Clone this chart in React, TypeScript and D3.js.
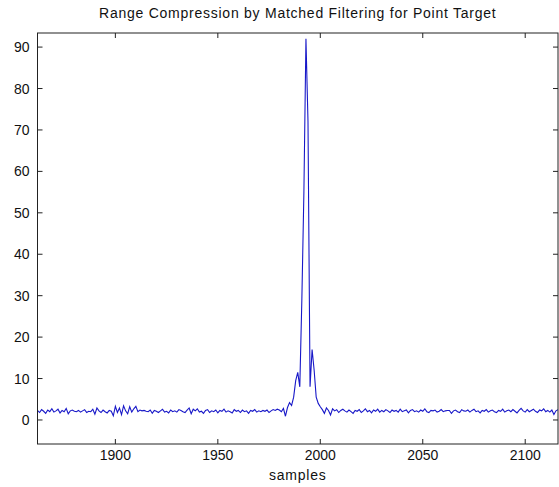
import React from "react";
import * as d3 from "d3";

const title = "Range Compression by Matched Filtering for Point Target";
const xLabel = "samples";
const xDomain = [1862, 2116];
const yDomain = [-5.8, 93.4];
const xTicks = [1900, 1950, 2000, 2050, 2100];
const yTicks = [0, 10, 20, 30, 40, 50, 60, 70, 80, 90];
const firstSample = 1862;
const magnitude = [
  2.3, 1.8, 2.5, 2.1, 1.6, 2.4, 2.0, 2.7, 1.9, 2.2,
  2.6, 1.7, 2.3, 2.0, 2.8, 1.5, 2.2, 2.4, 2.1, 2.0,
  2.3, 1.9, 2.2, 2.5, 1.8, 2.1, 2.0, 2.6, 1.4, 2.9,
  2.2, 1.8, 2.4, 2.0, 1.7, 2.3, 2.1, 1.0, 3.3, 1.8,
  2.9, 1.3, 3.4, 2.2, 1.5, 3.2, 1.9, 2.7, 3.3, 2.0,
  2.4, 2.2, 2.3, 2.1, 2.0, 2.4, 1.6, 2.3, 2.1, 1.8,
  2.2, 2.6, 1.9, 2.1, 1.7, 2.4, 2.0, 2.2, 1.9, 2.5,
  2.3, 2.0, 1.8, 2.4, 2.9, 1.5, 2.6, 2.2, 2.7, 1.9,
  2.1, 1.6, 2.3, 2.5, 1.8, 2.2, 2.0, 2.4, 1.7, 2.3,
  2.1, 2.6, 1.9, 2.2, 2.0, 1.7, 2.5, 2.1, 2.3, 1.8,
  2.4, 2.0, 2.2, 1.6, 2.3, 2.1, 2.5, 1.9, 2.2, 2.0,
  2.3, 2.1, 2.4, 1.8, 2.2, 2.5, 2.3, 2.6, 2.4, 2.0,
  2.8, 0.9, 3.0, 4.2, 3.5, 5.5, 9.5, 11.5, 8.0, 29,
  55, 92, 72, 8, 17, 12, 5.5, 4.0, 3.2, 2.5,
  1.6, 2.9, 2.3, 1.2, 2.7, 2.2, 2.5, 1.8, 2.3, 2.6,
  2.2, 1.9, 2.4, 2.0, 1.6, 2.3, 2.1, 2.5, 1.8, 2.2,
  2.7, 2.0, 2.3, 1.7, 2.4, 2.1, 2.6, 1.9, 2.3, 2.0,
  2.5, 2.2, 1.8, 2.4, 2.1, 2.3, 1.9, 2.6, 2.0, 2.2,
  2.4, 1.7, 2.3, 2.5, 2.0, 2.2, 1.9, 2.4, 2.1, 2.7,
  2.0, 1.8, 2.3, 2.2, 2.4, 1.9, 2.1, 2.5, 2.0, 2.2,
  2.3, 2.3, 1.6, 2.2, 2.4, 2.0, 1.8, 2.5, 2.2, 2.1,
  2.4, 1.9, 2.3, 2.6, 2.0, 2.2, 1.7, 2.3, 2.1, 2.5,
  1.9, 2.2, 2.4, 2.0, 1.8, 2.3, 2.1, 2.6, 1.9, 2.2,
  2.4, 2.0, 2.5, 2.1, 1.7, 2.3, 2.8, 2.2, 1.9, 2.5,
  2.0, 2.3, 2.6, 2.1, 1.8, 2.4, 2.2, 2.7, 2.0, 2.3,
  1.9, 2.4, 1.3, 2.2, 2.5,
];

const W = 559;
const H = 487;
const M = { left: 37.5, right: 558, top: 33, bottom: 444 };
const FONT = "'Liberation Sans', Arial, Helvetica, sans-serif";
const AXIS = "#222";
const TICK = 5;

export default function App() {
  const x = d3.scaleLinear().domain(xDomain).range([M.left, M.right]);
  const y = d3.scaleLinear().domain(yDomain).range([M.bottom, M.top]);
  const data = magnitude.map((v, i) => ({ s: firstSample + i, v }));
  const line = d3
    .line<{ s: number; v: number }>()
    .x((d) => x(d.s))
    .y((d) => y(d.v));

  return (
    <svg
      width={W}
      height={H}
      style={{ position: "absolute", left: 0, top: 0, background: "#fff" }}
      fontFamily={FONT}
    >
      <rect x={0} y={0} width={W} height={H} fill="#fff" />
      <clipPath id="plotClip">
        <rect x={M.left} y={M.top} width={M.right - M.left} height={M.bottom - M.top} />
      </clipPath>
      <path
        d={line(data) || ""}
        fill="none"
        stroke="#1818c8"
        strokeWidth={1.1}
        clipPath="url(#plotClip)"
      />
      <rect
        x={M.left}
        y={M.top}
        width={M.right - M.left}
        height={M.bottom - M.top}
        fill="none"
        stroke={AXIS}
        strokeWidth={1}
      />
      {xTicks.map((t) => (
        <g key={"x" + t}>
          <line x1={x(t)} x2={x(t)} y1={M.bottom} y2={M.bottom - TICK} stroke={AXIS} />
          <line x1={x(t)} x2={x(t)} y1={M.top} y2={M.top + TICK} stroke={AXIS} />
          <text x={x(t)} y={M.bottom + 16} textAnchor="middle" fontSize={14} fill="#111">
            {t}
          </text>
        </g>
      ))}
      {yTicks.map((t) => (
        <g key={"y" + t}>
          <line x1={M.left} x2={M.left + TICK} y1={y(t)} y2={y(t)} stroke={AXIS} />
          <line x1={M.right} x2={M.right - TICK} y1={y(t)} y2={y(t)} stroke={AXIS} />
          <text x={M.left - 8} y={y(t) + 5} textAnchor="end" fontSize={14} fill="#111">
            {t}
          </text>
        </g>
      ))}
      <text
        x={(M.left + M.right) / 2}
        y={18}
        textAnchor="middle"
        fontSize={14}
        letterSpacing={0.75}
        fill="#111"
      >
        {title}
      </text>
      <text
        x={(M.left + M.right) / 2}
        y={480}
        textAnchor="middle"
        fontSize={14}
        letterSpacing={0.8}
        fill="#111"
      >
        {xLabel}
      </text>
    </svg>
  );
}
